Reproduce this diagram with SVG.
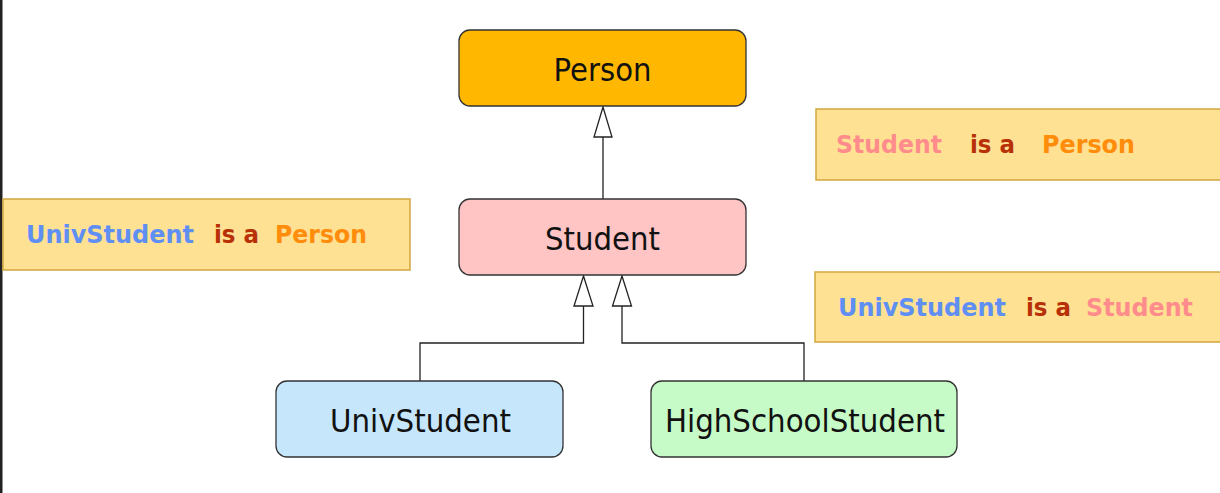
<svg xmlns="http://www.w3.org/2000/svg" width="1220" height="493" viewBox="0 0 1220 493">
<style>
.node{stroke:#333;stroke-width:1.3}
.nt{font-family:"DejaVu Sans",Verdana,sans-serif;font-size:31.5px;fill:#111;text-anchor:middle}
.lab{fill:#FFE193;stroke:#D2A63E;stroke-width:1.5}
.lt{font-family:"DejaVu Sans",Verdana,sans-serif;font-size:25.5px;font-weight:bold}
.blue{fill:#5F8FF3}.isa{fill:#B83008}.org{fill:#FF8C0A}.pink{fill:#FF8C8C}
.conn{fill:none;stroke:#222;stroke-width:1.3}
.tri{fill:#fff;stroke:#222;stroke-width:1.3}
</style>
<rect x="0" y="0" width="1220" height="493" fill="#fff"/>
<rect x="0" y="0" width="2.5" height="493" fill="#222"/>
<g id="connectors">
<path class="conn" d="M603,199 V137"/>
<polygon class="tri" points="603,107 594,137 612,137"/>
<path class="conn" d="M420,381 V343 H583.5 V306"/>
<polygon class="tri" points="583.5,276 574,306 593,306"/>
<path class="conn" d="M804,381 V343 H622 V306"/>
<polygon class="tri" points="622,276 612.5,306 631.5,306"/>
</g>
<g id="person">
<rect class="node" x="459" y="30" width="287" height="76" rx="11" fill="#FFB700"/>
<text class="nt" x="602.5" y="81" textLength="98" lengthAdjust="spacingAndGlyphs">Person</text>
</g>
<g id="student">
<rect class="node" x="459" y="199" width="287" height="76" rx="11" fill="#FFC4C4"/>
<text class="nt" x="602.5" y="250" textLength="115" lengthAdjust="spacingAndGlyphs">Student</text>
</g>
<g id="univstudent">
<rect class="node" x="276" y="381" width="287" height="76" rx="11" fill="#C5E6FB"/>
<text class="nt" x="420.5" y="432" textLength="181" lengthAdjust="spacingAndGlyphs">UnivStudent</text>
</g>
<g id="highschoolstudent">
<rect class="node" x="651" y="381" width="306" height="76" rx="11" fill="#C6FAC6"/>
<text class="nt" x="805" y="432" textLength="280" lengthAdjust="spacingAndGlyphs">HighSchoolStudent</text>
</g>
<g id="note-student-person">
<rect class="lab" x="816" y="109" width="406" height="71"/>
<text class="lt pink" x="836" y="153" textLength="106" lengthAdjust="spacingAndGlyphs">Student</text>
<text class="lt isa" x="970" y="153" textLength="45" lengthAdjust="spacingAndGlyphs">is a</text>
<text class="lt org" x="1042" y="153" textLength="93" lengthAdjust="spacingAndGlyphs">Person</text>
</g>
<g id="note-univ-person">
<rect class="lab" x="3" y="199" width="407" height="71"/>
<text class="lt blue" x="26" y="243" textLength="168" lengthAdjust="spacingAndGlyphs">UnivStudent</text>
<text class="lt isa" x="214" y="243" textLength="45" lengthAdjust="spacingAndGlyphs">is a</text>
<text class="lt org" x="275" y="243" textLength="92" lengthAdjust="spacingAndGlyphs">Person</text>
</g>
<g id="note-univ-student">
<rect class="lab" x="815" y="272" width="407" height="70"/>
<text class="lt blue" x="838" y="316" textLength="168" lengthAdjust="spacingAndGlyphs">UnivStudent</text>
<text class="lt isa" x="1026" y="316" textLength="45" lengthAdjust="spacingAndGlyphs">is a</text>
<text class="lt pink" x="1086" y="316" textLength="107" lengthAdjust="spacingAndGlyphs">Student</text>
</g>
</svg>
